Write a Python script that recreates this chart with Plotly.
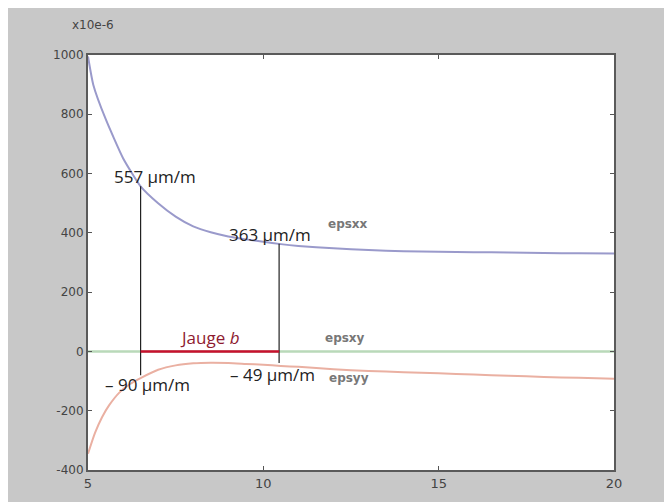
import plotly.graph_objects as go

# ---- data ----
x_xx = [5, 5.15, 5.5, 6, 6.5, 7, 7.5, 8, 8.5, 9, 9.5, 10, 10.5, 11, 12, 13, 14, 15, 16, 17, 18, 19, 20]
epsxx = [995, 900, 785, 652, 557, 500, 455, 422, 402, 388, 378, 370, 362, 356, 348, 342, 338, 336, 335, 334, 332, 331, 330]

x_yy = [5, 5.2, 5.4, 5.6, 5.9, 6.2, 6.5, 7, 7.5, 8, 8.5, 9, 9.5, 10, 10.5, 11, 12, 13, 14, 15, 16, 17, 18, 19, 20]
epsyy = [-345, -275, -222, -182, -138, -110, -90, -62, -47, -40, -38, -39, -42, -45, -49, -52, -60, -66, -70, -74, -78, -82, -86, -89, -92]

x_xy = [5, 20]
epsxy = [0, 0]

gauge_x = [6.5, 10.45]
gauge_top = [557, 363]
gauge_bottom = [-90, -49]
gauge_label = "Jauge <i>b</i>"

top_labels = ["557 µm/m", "363 µm/m"]
bottom_labels = ["– 90 µm/m", "– 49 µm/m"]

x_ticks = [5, 10, 15, 20]
y_ticks = [-400, -200, 0, 200, 400, 600, 800, 1000]

series_names = ["epsxx", "epsxy", "epsyy"]

fig = go.Figure()

fig.add_trace(go.Scatter(x=x_xy, y=epsxy, mode="lines",
                         line=dict(color="#b9d9b9", width=2.5), hoverinfo="skip"))
fig.add_trace(go.Scatter(x=x_xx, y=epsxx, mode="lines",
                         line=dict(color="#9a9acb", width=2, shape="spline", smoothing=0.5), hoverinfo="skip"))
fig.add_trace(go.Scatter(x=x_yy, y=epsyy, mode="lines",
                         line=dict(color="#eab0a2", width=2, shape="spline", smoothing=0.6), hoverinfo="skip"))

# gauge vertical lines
for gx, gt, gb in zip(gauge_x, gauge_top, gauge_bottom):
    fig.add_trace(go.Scatter(x=[gx, gx], y=[gb + 10, gt], mode="lines",
                             line=dict(color="#222222", width=1.2), hoverinfo="skip"))

# gauge red segment
fig.add_trace(go.Scatter(x=gauge_x, y=[0, 0], mode="lines",
                         line=dict(color="#c8102e", width=2.5), hoverinfo="skip"))

ann_font = dict(family="Open Sans", size=17, color="#222222")
annotations = []
annotations.append(dict(x=gauge_x[0] + 0.41, y=gauge_top[0] + 32, text=top_labels[0],
                        showarrow=False, font=ann_font))
annotations.append(dict(x=gauge_x[1] - 0.26, y=gauge_top[1] + 31, text=top_labels[1],
                        showarrow=False, font=ann_font))
annotations.append(dict(x=gauge_x[0] + 0.21, y=gauge_bottom[0] - 23, text=bottom_labels[0],
                        showarrow=False, font=ann_font))
annotations.append(dict(x=gauge_x[1] - 0.2, y=gauge_bottom[1] - 30, text=bottom_labels[1],
                        showarrow=False, font=ann_font))
annotations.append(dict(x=(gauge_x[0] + gauge_x[1]) / 2, y=48, text=gauge_label,
                        showarrow=False, font=dict(family="Open Sans", size=17, color="#8e1a30")))

lab_font = dict(family="DejaVu Sans", size=12, color="#777777")
for name, lx, ly in zip(series_names, [12.41, 12.33, 12.44], [431, 45, -89]):
    annotations.append(dict(x=lx, y=ly, text="<b>%s</b>" % name, showarrow=False, font=lab_font))

annotations.append(dict(xref="paper", yref="paper", x=0.0095, y=1.072, text="x10e-6",
                        xanchor="center", yanchor="middle",
                        showarrow=False, font=dict(family="DejaVu Sans", size=12, color="#444444")))

fig.update_layout(
    width=672, height=502,
    margin=dict(l=80, r=66, t=47, b=40),
    paper_bgcolor="#c8c8c8",
    plot_bgcolor="#ffffff",
    showlegend=False,
    annotations=annotations,
    xaxis=dict(range=[5, 20], tickvals=x_ticks, ticktext=[str(v) for v in x_ticks],
               showgrid=False, zeroline=False, showline=True, linecolor="#5a5a5a", linewidth=2,
               mirror="ticks", ticks="inside", ticklen=4, tickcolor="#555555",
               tickfont=dict(family="DejaVu Sans", size=13, color="#444444")),
    yaxis=dict(range=[-400, 1000], tickvals=y_ticks, ticktext=[str(v) for v in y_ticks],
               showgrid=False, zeroline=False, showline=True, linecolor="#5a5a5a", linewidth=2,
               mirror="ticks", ticks="inside", ticklen=4, tickcolor="#555555",
               tickfont=dict(family="DejaVu Sans", size=12, color="#444444")),
)

fig.write_html("out.html")
